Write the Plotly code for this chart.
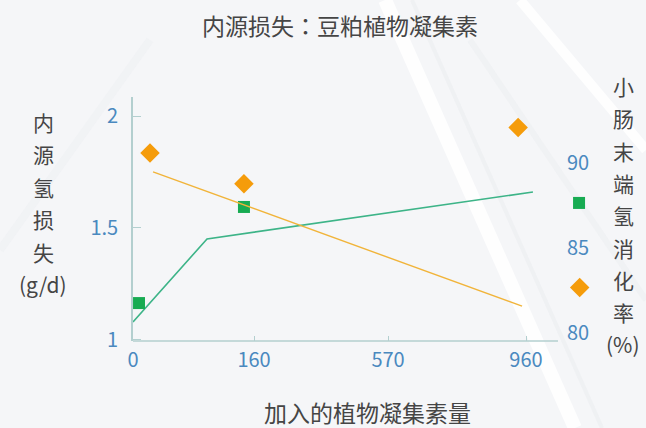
import plotly.graph_objects as go

# ---- data ----
dose_labels = ["0", "160", "570", "960"]
dose_pos = [0, 0.924, 1.947, 3.0]           # positions of the dose ticks on the x scale
dose_axis_end = 3.244                       # where the drawn x axis line stops

# endogenous N loss (g/d), left axis
loss_pts_x = [0.046, 0.847, 3.405]
loss_pts_y = [1.163, 1.593, 1.611]
loss_fit_x = [0, 0.565, 3.053]
loss_fit_y = [1.078, 1.45, 1.66]

# ileal N digestibility (%), right axis
dig_pts_x = [0.13, 0.847, 2.94, 3.41]
dig_pts_y = [90.6, 88.8, 92.1, 82.7]
dig_fit_x = [0.153, 2.97]
dig_fit_y = [89.5, 81.6]

left_ticks = [1, 1.5, 2]
left_tick_text = ["1", "1.5", "2"]
right_ticks = [80, 85, 90]
right_tick_text = ["80", "85", "90"]

title_text = "内源损失：豆粕植物凝集素"
x_title_text = "加入的植物凝集素量"
left_title_chars = ["内", "源", "氢", "损", "失", "(g/d)"]
right_title_chars = ["小", "肠", "末", "端", "氢", "消", "化", "率", "(%)"]

# ---- layout geometry ----
W, H = 646, 428
PL, PR, PT, PB = 133, 600, 97, 341          # plotting area in pixels
AXIS_RIGHT_PX = 558                         # right end of the visible axis frame
PX_PER_UNIT = 131.0
FONT = "Noto Sans CJK SC"
TITLE_FONT = "Noto Sans CJK JP"
TICK_BLUE = "#4a89bf"
TEXT_GRAY = "#454545"
AXIS_COL = "#b3cfcf"
GREEN_LINE = "#3db488"
GREEN_MK = "#17ab52"
ORANGE_LINE = "#f1b43a"
ORANGE_MK = "#f59c0b"
TICK_SIZE = 20


def px_x(px):
    return (px - PL) / (PR - PL)


def px_y(py):
    return (PB - py) / (PB - PT)


fig = go.Figure()

fig.add_trace(go.Scatter(x=loss_fit_x, y=loss_fit_y, mode="lines",
                         line=dict(color=GREEN_LINE, width=1.6),
                         hoverinfo="skip", yaxis="y"))
fig.add_trace(go.Scatter(x=dig_fit_x, y=dig_fit_y, mode="lines",
                         line=dict(color=ORANGE_LINE, width=1.4),
                         hoverinfo="skip", yaxis="y2"))
fig.add_trace(go.Scatter(x=dig_pts_x, y=dig_pts_y, mode="markers",
                         marker=dict(symbol="diamond", size=15, color=ORANGE_MK,
                                     line=dict(width=0)),
                         yaxis="y2"))
fig.add_trace(go.Scatter(x=loss_pts_x, y=loss_pts_y, mode="markers",
                         marker=dict(symbol="square", size=12, color=GREEN_MK,
                                     line=dict(width=0)),
                         yaxis="y"))

annotations = [
    dict(text=title_text, x=px_x(340), y=px_y(25), xref="paper", yref="paper",
         showarrow=False, font=dict(family=TITLE_FONT, size=23, color=TEXT_GRAY),
         xanchor="center", yanchor="middle"),
    dict(text=x_title_text, x=px_x(367), y=px_y(412), xref="paper", yref="paper",
         showarrow=False, font=dict(family=FONT, size=23, color=TEXT_GRAY),
         xanchor="center", yanchor="middle"),
]
for i, ch in enumerate(left_title_chars):
    annotations.append(dict(text=ch, x=px_x(43), y=px_y(122 + 32.4 * i),
                            xref="paper", yref="paper", showarrow=False,
                            font=dict(family=FONT, size=21, color=TEXT_GRAY),
                            xanchor="center", yanchor="middle"))
for i, ch in enumerate(right_title_chars):
    annotations.append(dict(text=ch, x=px_x(623), y=px_y(86 + 32.3 * i),
                            xref="paper", yref="paper", showarrow=False,
                            font=dict(family=FONT, size=21, color=TEXT_GRAY),
                            xanchor="center", yanchor="middle"))

# faint diagonal streaks in the backdrop
streaks = [
    ((385, 0), (575, 428), "rgba(255,255,255,0.85)", 14),
    ((412, 0), (602, 428), "rgba(225,228,232,0.30)", 4),
    ((470, 40), (646, 300), "rgba(228,231,235,0.30)", 6),
    ((0, 250), (150, 40), "rgba(232,235,238,0.30)", 8),
    ((520, 0), (646, 150), "rgba(255,255,255,0.85)", 10),
]
shapes = []
for (x0, y0), (x1, y1), col, w in streaks:
    shapes.append(dict(type="line", xref="paper", yref="paper", layer="below",
                       x0=px_x(x0), y0=px_y(y0), x1=px_x(x1), y1=px_y(y1),
                       line=dict(color=col, width=w)))
# x axis baseline, ending short of the right-hand markers
shapes.append(dict(type="line", xref="x", yref="paper", layer="above",
                   x0=0, x1=dose_axis_end, y0=0, y1=0,
                   line=dict(color=AXIS_COL, width=1.6)))

fig.update_layout(
    width=W, height=H,
    margin=dict(l=PL, r=W - PR, t=PT, b=H - PB, pad=0),
    paper_bgcolor="#f5f6f8", plot_bgcolor="rgba(0,0,0,0)",
    showlegend=False,
    font=dict(family=FONT, color=TICK_BLUE),
    annotations=annotations,
    shapes=shapes,
    xaxis=dict(range=[0, (PR - PL) / PX_PER_UNIT], tickmode="array",
               tickvals=dose_pos, ticktext=dose_labels, ticks="inside",
               ticklen=5, tickcolor=AXIS_COL, tickwidth=1.2, showline=False,
               showgrid=False, zeroline=False,
               tickfont=dict(size=TICK_SIZE, color=TICK_BLUE),
               ticklabelstandoff=5, fixedrange=True),
    yaxis=dict(range=[0.9933, 2.085], tickmode="array", tickvals=left_ticks,
               ticktext=left_tick_text, ticks="inside", ticklen=8,
               tickcolor=AXIS_COL, tickwidth=1.2, showline=True,
               linecolor=AXIS_COL, linewidth=1.6, showgrid=False,
               zeroline=False, tickfont=dict(size=TICK_SIZE, color=TICK_BLUE),
               ticklabelstandoff=9, fixedrange=True),
    yaxis2=dict(range=[79.55, 93.9], tickmode="array", tickvals=right_ticks,
                ticktext=right_tick_text, overlaying="y", side="right",
                anchor="free", position=px_x(AXIS_RIGHT_PX),
                showline=False, ticks="", showgrid=False, zeroline=False,
                tickfont=dict(size=TICK_SIZE, color=TICK_BLUE),
                ticklabelstandoff=8, fixedrange=True),
)

fig.write_html("out.html")
